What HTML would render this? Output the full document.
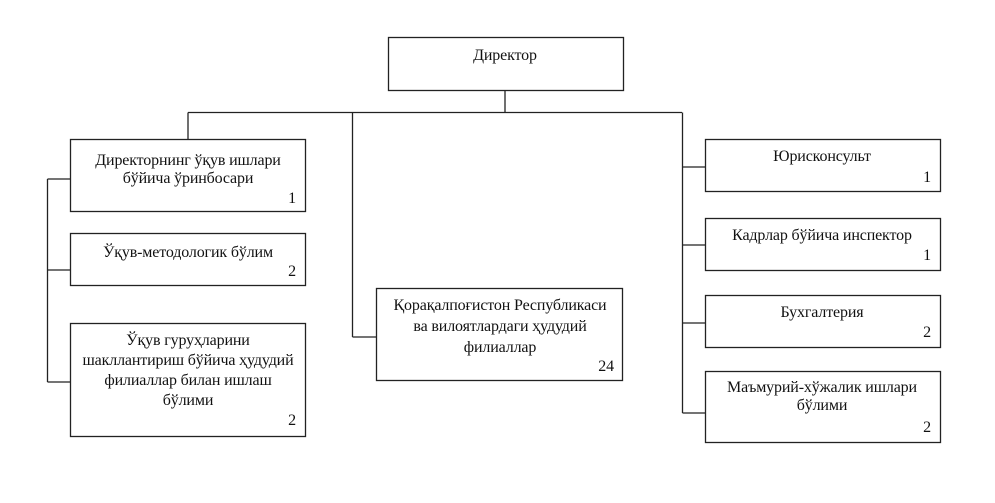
<!DOCTYPE html>
<html><head><meta charset="utf-8"><style>html,body{margin:0;padding:0;background:#fff}svg{display:block}svg text{font-family:"Liberation Serif",serif;font-size:16px;letter-spacing:-0.15px}</style></head>
<body>
<svg width="995" height="503" viewBox="0 0 995 503" xmlns="http://www.w3.org/2000/svg" fill="#111">
<g stroke="#222" stroke-width="1.3" fill="none">
<rect x="388.5" y="37.5" width="235" height="53"/>
<line x1="505" y1="90" x2="505" y2="112.5"/>
<line x1="188" y1="112.5" x2="682" y2="112.5"/>
<line x1="188" y1="112.5" x2="188" y2="139"/>
<line x1="352.5" y1="112.5" x2="352.5" y2="337"/>
<line x1="352.5" y1="337" x2="377" y2="337"/>
<line x1="682.5" y1="112.5" x2="682.5" y2="413"/>
<line x1="682.5" y1="167" x2="705" y2="167"/>
<line x1="682.5" y1="245" x2="705" y2="245"/>
<line x1="682.5" y1="323" x2="705" y2="323"/>
<line x1="682.5" y1="413" x2="705" y2="413"/>
<line x1="47.5" y1="179" x2="47.5" y2="382"/>
<line x1="47.5" y1="179" x2="70" y2="179"/>
<line x1="47.5" y1="270" x2="70" y2="270"/>
<line x1="47.5" y1="382" x2="70" y2="382"/>
<rect x="70.5" y="139.5" width="235" height="72"/>
<rect x="70.5" y="233.5" width="235" height="52"/>
<rect x="70.5" y="323.5" width="235" height="113"/>
<rect x="376.5" y="288.5" width="246" height="92"/>
<rect x="705.5" y="139.5" width="235" height="52"/>
<rect x="705.5" y="218.5" width="235" height="52"/>
<rect x="705.5" y="295.5" width="235" height="52"/>
<rect x="705.5" y="371.5" width="235" height="71"/>
</g>
<g text-anchor="middle">
<text x="505" y="60">Директор</text>
<text x="188" y="165">Директорнинг ўқув ишлари</text>
<text x="188" y="183">бўйича ўринбосари</text>
<text x="188" y="257">Ўқув-методологик бўлим</text>
<text x="188" y="345">Ўқув гуруҳларини</text>
<text x="188" y="365">шакллантириш бўйича ҳудудий</text>
<text x="188" y="385">филиаллар билан ишлаш</text>
<text x="188" y="405">бўлими</text>
<text x="500" y="310">Қорақалпоғистон Республикаси</text>
<text x="500" y="331">ва вилоятлардаги ҳудудий</text>
<text x="500" y="352">филиаллар</text>
<text x="822" y="161">Юрисконсульт</text>
<text x="822" y="240">Кадрлар бўйича инспектор</text>
<text x="822" y="317">Бухгалтерия</text>
<text x="822" y="392">Маъмурий-хўжалик ишлари</text>
<text x="822" y="410">бўлими</text>
</g>
<g text-anchor="end">
<text x="296" y="203">1</text>
<text x="296" y="276">2</text>
<text x="296" y="425">2</text>
<text x="614" y="371">24</text>
<text x="931" y="182">1</text>
<text x="931" y="260">1</text>
<text x="931" y="337">2</text>
<text x="931" y="432">2</text>
</g>
</svg>
</body></html>
